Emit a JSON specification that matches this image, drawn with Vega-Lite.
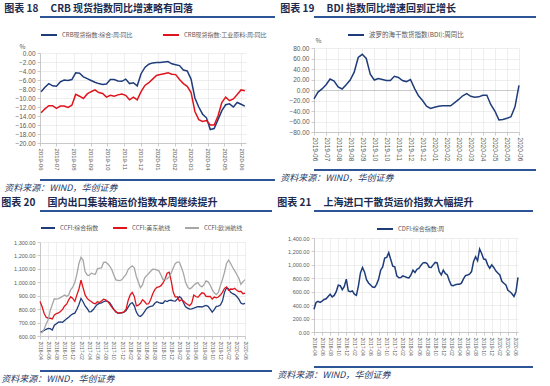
{
  "$schema": "https://vega.github.io/schema/vega-lite/v6.json",
  "background": "white",
  "padding": {"left": 0, "top": 4, "right": 0, "bottom": 0},
  "config": {
    "font": "Noto Sans CJK SC",
    "view": {"stroke": null},
    "axis": {"labelFont": "Liberation Sans", "labelColor": "#595959", "gridColor": "#e2e2e2", "gridWidth": 0.6, "domainColor": "#bfbfbf", "domainWidth": 0.8, "tickColor": "#bfbfbf", "tickWidth": 0.8, "tickSize": 3, "labelPadding": 2, "titlePadding": 0, "labelOverlap": false, "labelFlush": false},
    "legend": {"labelColor": "#595959", "symbolType": "stroke", "symbolStrokeWidth": 2, "symbolSize": 256, "labelFont": "Noto Sans CJK SC", "padding": 0},
    "title": {"font": "Noto Sans CJK SC"}
  },
  "resolve": {"scale": {"color": "independent"}, "legend": {"color": "independent"}},
  "spacing": 5,
  "vconcat": [
    {
      "spacing": 4,
      "resolve": {"scale": {"color": "independent"}, "legend": {"color": "independent"}},
      "hconcat": [
        {
          "spacing": 8,
          "resolve": {"scale": {"color": "independent"}, "legend": {"color": "independent"}},
          "vconcat": [
            {"width": 235, "height": 2, "view": {"fill": "#2e5496", "stroke": null}, "data": {"values": [{"z": 0}]}, "mark": {"type": "rule", "color": "#2e5496", "strokeWidth": 1.5}, "encoding": {"y": {"field": "z", "type": "quantitative", "axis": null, "scale": {"domain": [-1, 1]}}},
             "title": {"text": "图表 18\u3000 CRB 现货指数同比增速略有回落", "anchor": "start", "dx": -35, "fontSize": 10, "fontWeight": "bold", "color": "#1b2a4e", "offset": 2}},
            {
              "spacing": 8,
              "resolve": {"scale": {"color": "independent"}, "legend": {"color": "independent"}},
              "vconcat": [
                {
                  "width": 206, "height": 90,
                  "data": {"values": [
                    {"d":"2019-06-03","a":-8.6,"b":-13.3},{"d":"2019-06-10","a":-7.6,"b":-12.4},{"d":"2019-06-17","a":-6.8,"b":-11.7},{"d":"2019-06-24","a":-7.3,"b":-11.7},
                    {"d":"2019-07-01","a":-7.4,"b":-12.3},{"d":"2019-07-08","a":-6.4,"b":-11.8},{"d":"2019-07-15","a":-6.0,"b":-11.8},{"d":"2019-07-22","a":-6.1,"b":-12.1},{"d":"2019-07-29","a":-5.9,"b":-11.6},
                    {"d":"2019-08-05","a":-4.4,"b":-9.2},{"d":"2019-08-12","a":-4.5,"b":-9.6},{"d":"2019-08-19","a":-5.3,"b":-10.1},{"d":"2019-08-26","a":-5.7,"b":-9.1},
                    {"d":"2019-09-02","a":-6.1,"b":-8.6},{"d":"2019-09-09","a":-6.5,"b":-8.2},{"d":"2019-09-16","a":-6.8,"b":-8.8},{"d":"2019-09-23","a":-7.0,"b":-9.0},{"d":"2019-09-30","a":-6.9,"b":-9.8},
                    {"d":"2019-10-07","a":-5.9,"b":-9.4},{"d":"2019-10-14","a":-5.9,"b":-9.6},{"d":"2019-10-21","a":-6.2,"b":-9.3},{"d":"2019-10-28","a":-6.3,"b":-9.1},
                    {"d":"2019-11-04","a":-5.8,"b":-9.4},{"d":"2019-11-11","a":-6.8,"b":-10.4},{"d":"2019-11-18","a":-6.6,"b":-9.8},{"d":"2019-11-25","a":-7.3,"b":-10.4},
                    {"d":"2019-12-02","a":-4.6,"b":-8.6},{"d":"2019-12-09","a":-3.2,"b":-7.2},{"d":"2019-12-16","a":-2.5,"b":-6.6},{"d":"2019-12-23","a":-2.2,"b":-5.8},{"d":"2019-12-30","a":-2.1,"b":-5.0},
                    {"d":"2020-01-06","a":-2.1,"b":-4.8},{"d":"2020-01-13","a":-2.0,"b":-4.6},{"d":"2020-01-20","a":-1.9,"b":-4.4},{"d":"2020-01-27","a":-2.4,"b":-4.7},
                    {"d":"2020-02-03","a":-2.6,"b":-4.8},{"d":"2020-02-10","a":-2.8,"b":-5.9},{"d":"2020-02-17","a":-3.8,"b":-6.8},{"d":"2020-02-24","a":-4.0,"b":-7.4},
                    {"d":"2020-03-02","a":-5.8,"b":-8.8},{"d":"2020-03-09","a":-10.0,"b":-13.0},{"d":"2020-03-16","a":-12.0,"b":-14.8},{"d":"2020-03-23","a":-13.6,"b":-15.2},{"d":"2020-03-30","a":-14.4,"b":-15.0},
                    {"d":"2020-04-06","a":-17.0,"b":-16.0},{"d":"2020-04-13","a":-16.8,"b":-16.0},{"d":"2020-04-20","a":-14.8,"b":-14.0},{"d":"2020-04-27","a":-12.8,"b":-11.0},
                    {"d":"2020-05-04","a":-11.5,"b":-9.8},{"d":"2020-05-11","a":-11.3,"b":-10.6},{"d":"2020-05-18","a":-12.0,"b":-10.2},{"d":"2020-05-25","a":-11.0,"b":-9.2},
                    {"d":"2020-06-01","a":-11.4,"b":-8.2},{"d":"2020-06-08","a":-11.8,"b":-8.4}
                  ]},
                  "transform": [{"fold": ["a", "b"], "as": ["s", "v"]}],
                  "mark": {"type": "line", "strokeWidth": 1.5},
                  "encoding": {
                    "x": {"field": "d", "type": "temporal",
                          "scale": {"domain": [{"year": 2019, "month": 6, "date": 1}, {"year": 2020, "month": 6, "date": 10}]},
                          "axis": {"title": null, "format": "%Y-%m", "tickCount": {"interval": "month", "step": 1}, "labelAngle": 90, "labelFontSize": 6, "grid": true}},
                    "y": {"field": "v", "type": "quantitative", "scale": {"domain": [-20, 0]},
                          "axis": {"values": [-20,-18,-16,-14,-12,-10,-8,-6,-4,-2,0], "format": ".2f", "labelFontSize": 6.5, "minExtent": 37,
                                   "title": "%", "titleAngle": 0, "titleX": -21, "titleY": -4, "titleAlign": "left", "titleBaseline": "bottom", "titleFontSize": 6.5, "titleFontWeight": "normal", "titleColor": "#595959"}},
                    "color": {"field": "s", "type": "nominal", "scale": {"domain": ["a", "b"], "range": ["#1f3c7a", "#e0141c"]},
                              "legend": {"title": null, "orient": "top", "offset": 14, "columnPadding": 26, "labelFontSize": 6,
                                         "labelExpr": "datum.label == 'a' ? 'CRB现货指数:综合:周:同比' : 'CRB现货指数:工业原料:周:同比'"}}
                  }
                },
                {"width": 235, "height": 2, "view": {"fill": "#2e5496", "stroke": null}, "data": {"values": [{"z": 0}]}, "mark": {"type": "rule", "color": "#2e5496", "strokeWidth": 1.5}, "encoding": {"y": {"field": "z", "type": "quantitative", "axis": null, "scale": {"domain": [-1, 1]}}},
                 "title": {"text": "资料来源：WIND，华创证券", "orient": "bottom", "anchor": "start", "dx": -35, "fontSize": 9, "fontStyle": "italic", "fontWeight": "normal", "color": "#1f3864", "offset": 3}}
              ]
            }
          ]
        },
        {
          "spacing": 8,
          "resolve": {"scale": {"color": "independent"}, "legend": {"color": "independent"}},
          "vconcat": [
            {"width": 222, "height": 2, "view": {"fill": "#2e5496", "stroke": null}, "data": {"values": [{"z": 0}]}, "mark": {"type": "rule", "color": "#2e5496", "strokeWidth": 1.5}, "encoding": {"y": {"field": "z", "type": "quantitative", "axis": null, "scale": {"domain": [-1, 1]}}},
             "title": {"text": "图表 19\u3000 BDI 指数同比增速回到正增长", "anchor": "start", "dx": -33, "fontSize": 10, "fontWeight": "bold", "color": "#1b2a4e", "offset": 2}},
            {
              "spacing": 8,
              "resolve": {"scale": {"color": "independent"}, "legend": {"color": "independent"}},
              "vconcat": [
                {
                  "width": 205, "height": 84,
                  "data": {"values": [
                    {"d":"2019-06-21","v":-17},{"d":"2019-06-28","v":-4},{"d":"2019-07-05","v":2},{"d":"2019-07-12","v":10},{"d":"2019-07-19","v":21},{"d":"2019-07-26","v":17},
                    {"d":"2019-08-02","v":6},{"d":"2019-08-09","v":2},{"d":"2019-08-16","v":10},{"d":"2019-08-23","v":19},{"d":"2019-08-30","v":34},
                    {"d":"2019-09-06","v":62},{"d":"2019-09-13","v":68},{"d":"2019-09-20","v":60},{"d":"2019-09-27","v":30},
                    {"d":"2019-10-04","v":19},{"d":"2019-10-11","v":22},{"d":"2019-10-18","v":20},{"d":"2019-10-25","v":18},
                    {"d":"2019-11-01","v":18},{"d":"2019-11-08","v":26},{"d":"2019-11-15","v":24},{"d":"2019-11-22","v":18},{"d":"2019-11-29","v":16},
                    {"d":"2019-12-06","v":20},{"d":"2019-12-13","v":3},{"d":"2019-12-20","v":-11},{"d":"2019-12-27","v":-20},
                    {"d":"2020-01-03","v":-31},{"d":"2020-01-10","v":-35},{"d":"2020-01-17","v":-33},{"d":"2020-01-24","v":-31},{"d":"2020-01-31","v":-30},
                    {"d":"2020-02-07","v":-30},{"d":"2020-02-14","v":-30},{"d":"2020-02-21","v":-24},{"d":"2020-02-28","v":-18},
                    {"d":"2020-03-06","v":-11},{"d":"2020-03-13","v":-7},{"d":"2020-03-20","v":-12},{"d":"2020-03-27","v":-14},
                    {"d":"2020-04-03","v":-13},{"d":"2020-04-10","v":-10},{"d":"2020-04-17","v":-10},{"d":"2020-04-24","v":-28},
                    {"d":"2020-05-01","v":-40},{"d":"2020-05-08","v":-57},{"d":"2020-05-15","v":-56},{"d":"2020-05-22","v":-54},{"d":"2020-05-29","v":-51},
                    {"d":"2020-06-05","v":-32},{"d":"2020-06-12","v":9}
                  ]},
                  "mark": {"type": "line", "strokeWidth": 1.5},
                  "encoding": {
                    "x": {"field": "d", "type": "ordinal", "scale": {"type": "point", "padding": 0},
                          "axis": {"title": null, "values": ["2019-06-21","2019-07-12","2019-08-02","2019-08-23","2019-09-13","2019-10-04","2019-10-25","2019-11-15","2019-12-06","2019-12-27","2020-01-17","2020-02-07","2020-02-28","2020-03-20","2020-04-10","2020-05-01","2020-05-22","2020-06-12"],
                                   "labelExpr": "substring(datum.value, 0, 7)", "labelAngle": 90, "labelFontSize": 6.5, "grid": true}},
                    "y": {"field": "v", "type": "quantitative", "scale": {"domain": [-80, 80]},
                          "axis": {"values": [-80,-60,-40,-20,0,20,40,60,80], "format": ".2f", "labelFontSize": 6.5, "minExtent": 34,
                                   "gridColor": {"condition": {"test": "datum.value === 0", "value": "#a6a6a6"}, "value": "#e2e2e2"},
                                   "title": "%", "titleAngle": 0, "titleX": 1, "titleY": -5, "titleAlign": "left", "titleBaseline": "bottom", "titleFontSize": 6.5, "titleFontWeight": "normal", "titleColor": "#595959"}},
                    "color": {"datum": "波罗的海干散货指数(BDI):周同比", "scale": {"range": ["#1f3c7a"]},
                              "legend": {"title": null, "orient": "none", "legendX": 33, "legendY": -22, "labelFontSize": 6.5}}
                  }
                },
                {"width": 222, "height": 2, "view": {"fill": "#2e5496", "stroke": null}, "data": {"values": [{"z": 0}]}, "mark": {"type": "rule", "color": "#2e5496", "strokeWidth": 1.5}, "encoding": {"y": {"field": "z", "type": "quantitative", "axis": null, "scale": {"domain": [-1, 1]}}},
                 "title": {"text": "资料来源：WIND，华创证券", "orient": "bottom", "anchor": "start", "dx": -33, "fontSize": 9, "fontStyle": "italic", "fontWeight": "normal", "color": "#1f3864", "offset": 3}}
              ]
            }
          ]
        }
      ]
    },
    {
      "spacing": 4,
      "resolve": {"scale": {"color": "independent"}, "legend": {"color": "independent"}},
      "hconcat": [
        {
          "spacing": 8,
          "resolve": {"scale": {"color": "independent"}, "legend": {"color": "independent"}},
          "vconcat": [
            {"width": 232, "height": 2, "view": {"fill": "#2e5496", "stroke": null}, "data": {"values": [{"z": 0}]}, "mark": {"type": "rule", "color": "#2e5496", "strokeWidth": 1.5}, "encoding": {"y": {"field": "z", "type": "quantitative", "axis": null, "scale": {"domain": [-1, 1]}}},
             "title": {"text": "图表 20\u3000 国内出口集装箱运价指数本周继续提升", "anchor": "start", "dx": -38, "fontSize": 10, "fontWeight": "bold", "color": "#1b2a4e", "offset": 2}},
            {
              "spacing": 10,
              "resolve": {"scale": {"color": "independent"}, "legend": {"color": "independent"}},
              "vconcat": [
                {
                  "width": 205, "height": 94,
                  "data": {"values": [
                    {"d":"2016-04-01","a":632,"b":857,"c":632},{"d":"2016-04-16","a":635,"b":819,"c":625},{"d":"2016-05-01","a":642,"b":770,"c":650},{"d":"2016-05-16","a":650,"b":740,"c":690},
                    {"d":"2016-06-01","a":657,"b":732,"c":720},{"d":"2016-06-16","a":655,"b":732,"c":790},{"d":"2016-07-01","a":645,"b":727,"c":835},{"d":"2016-07-16","a":680,"b":757,"c":877},
                    {"d":"2016-08-01","a":692,"b":767,"c":875},{"d":"2016-08-16","a":703,"b":772,"c":878},{"d":"2016-09-01","a":705,"b":782,"c":886},{"d":"2016-09-16","a":702,"b":798,"c":895},
                    {"d":"2016-10-01","a":715,"b":824,"c":905},{"d":"2016-10-16","a":728,"b":837,"c":895},{"d":"2016-11-01","a":740,"b":870,"c":905},{"d":"2016-11-16","a":755,"b":892,"c":945},
                    {"d":"2016-12-01","a":765,"b":880,"c":964},{"d":"2016-12-16","a":770,"b":858,"c":1000},{"d":"2017-01-01","a":799,"b":906,"c":1060},{"d":"2017-01-16","a":835,"b":950,"c":1140},
                    {"d":"2017-02-01","a":880,"b":1015,"c":1185},{"d":"2017-02-16","a":855,"b":960,"c":1165},{"d":"2017-03-01","a":824,"b":906,"c":1080},{"d":"2017-03-16","a":805,"b":880,"c":1055},
                    {"d":"2017-04-01","a":780,"b":866,"c":1050},{"d":"2017-04-16","a":782,"b":857,"c":1068},{"d":"2017-05-01","a":797,"b":844,"c":1062},{"d":"2017-05-16","a":819,"b":840,"c":1060},
                    {"d":"2017-06-01","a":836,"b":855,"c":1100},{"d":"2017-06-16","a":843,"b":850,"c":1106},{"d":"2017-07-01","a":847,"b":860,"c":1108},{"d":"2017-07-16","a":855,"b":874,"c":1148},
                    {"d":"2017-08-01","a":862,"b":869,"c":1150},{"d":"2017-08-16","a":858,"b":858,"c":1138},{"d":"2017-09-01","a":847,"b":838,"c":1120},{"d":"2017-09-16","a":825,"b":815,"c":1095},
                    {"d":"2017-10-01","a":798,"b":797,"c":1055},{"d":"2017-10-16","a":778,"b":783,"c":1018},{"d":"2017-11-01","a":770,"b":769,"c":1015},{"d":"2017-11-16","a":770,"b":774,"c":1012},
                    {"d":"2017-12-01","a":773,"b":774,"c":1020},{"d":"2017-12-16","a":778,"b":780,"c":1040},{"d":"2018-01-01","a":790,"b":800,"c":1058},{"d":"2018-01-16","a":815,"b":865,"c":1095},
                    {"d":"2018-02-01","a":839,"b":906,"c":1111},{"d":"2018-02-16","a":849,"b":924,"c":1123},{"d":"2018-03-01","a":825,"b":895,"c":1108},{"d":"2018-03-16","a":778,"b":825,"c":1043},
                    {"d":"2018-04-01","a":752,"b":830,"c":1000},{"d":"2018-04-16","a":745,"b":844,"c":960},{"d":"2018-05-01","a":760,"b":870,"c":980},{"d":"2018-05-16","a":782,"b":857,"c":1031},
                    {"d":"2018-06-01","a":805,"b":838,"c":1050},{"d":"2018-06-16","a":815,"b":840,"c":1065},{"d":"2018-07-01","a":820,"b":872,"c":1082},{"d":"2018-07-16","a":824,"b":915,"c":1097},
                    {"d":"2018-08-01","a":844,"b":945,"c":1096},{"d":"2018-08-16","a":855,"b":962,"c":1092},{"d":"2018-09-01","a":848,"b":965,"c":1085},{"d":"2018-09-16","a":844,"b":975,"c":1055},
                    {"d":"2018-10-01","a":844,"b":995,"c":1020},{"d":"2018-10-16","a":863,"b":1025,"c":1025},{"d":"2018-11-01","a":857,"b":1068,"c":1026},{"d":"2018-11-16","a":865,"b":1075,"c":1040},
                    {"d":"2018-12-01","a":866,"b":1010,"c":1070},{"d":"2018-12-16","a":862,"b":925,"c":1106},{"d":"2019-01-01","a":860,"b":890,"c":1140},{"d":"2019-01-16","a":876,"b":893,"c":1150},
                    {"d":"2019-02-01","a":893,"b":860,"c":1150},{"d":"2019-02-16","a":882,"b":870,"c":1110},{"d":"2019-03-01","a":847,"b":860,"c":1065},{"d":"2019-03-16","a":818,"b":845,"c":1000},
                    {"d":"2019-04-01","a":808,"b":835,"c":966},{"d":"2019-04-16","a":800,"b":826,"c":950},{"d":"2019-05-01","a":802,"b":845,"c":960},{"d":"2019-05-16","a":807,"b":905,"c":978},
                    {"d":"2019-06-01","a":813,"b":894,"c":990},{"d":"2019-06-16","a":818,"b":888,"c":998},{"d":"2019-07-01","a":818,"b":905,"c":976},{"d":"2019-07-16","a":816,"b":922,"c":966},
                    {"d":"2019-08-01","a":822,"b":918,"c":982},{"d":"2019-08-16","a":828,"b":895,"c":1010},{"d":"2019-09-01","a":821,"b":894,"c":1003},{"d":"2019-09-16","a":800,"b":895,"c":980},
                    {"d":"2019-10-01","a":777,"b":875,"c":945},{"d":"2019-10-16","a":796,"b":890,"c":922},{"d":"2019-11-01","a":820,"b":884,"c":908},{"d":"2019-11-16","a":822,"b":890,"c":925},
                    {"d":"2019-12-01","a":830,"b":905,"c":975},{"d":"2019-12-16","a":860,"b":925,"c":1020},{"d":"2020-01-01","a":925,"b":955,"c":1075},{"d":"2020-01-16","a":960,"b":965,"c":1140},
                    {"d":"2020-02-01","a":950,"b":940,"c":1165},{"d":"2020-02-16","a":925,"b":950,"c":1140},{"d":"2020-03-01","a":915,"b":948,"c":1110},{"d":"2020-03-16","a":908,"b":955,"c":1085},
                    {"d":"2020-04-01","a":894,"b":940,"c":1058},{"d":"2020-04-16","a":874,"b":931,"c":1030},{"d":"2020-05-01","a":845,"b":933,"c":985},{"d":"2020-05-16","a":838,"b":915,"c":1005},
                    {"d":"2020-06-01","a":843,"b":919,"c":1020}
                  ]},
                  "transform": [{"fold": ["a", "b", "c"], "as": ["s", "v"]}],
                  "mark": {"type": "line", "strokeWidth": 1.3},
                  "encoding": {
                    "x": {"field": "d", "type": "ordinal", "scale": {"type": "point", "padding": 0},
                          "axis": {"title": null, "values": ["2016-04-01","2016-06-01","2016-08-01","2016-10-01","2016-12-01","2017-02-01","2017-04-01","2017-06-01","2017-08-01","2017-10-01","2017-12-01","2018-02-01","2018-04-01","2018-06-01","2018-08-01","2018-10-01","2018-12-01","2019-02-01","2019-04-01","2019-06-01","2019-08-01","2019-10-01","2019-12-01","2020-02-01","2020-04-01","2020-06-01"],
                                   "labelExpr": "substring(datum.value, 0, 7)", "labelAngle": 90, "labelFontSize": 5, "grid": true}},
                    "y": {"field": "v", "type": "quantitative", "scale": {"domain": [600, 1300]},
                          "axis": {"values": [600,700,800,900,1000,1100,1200,1300], "format": ",.2f", "labelFontSize": 5.5, "minExtent": 40, "title": null}},
                    "color": {"field": "s", "type": "nominal", "scale": {"domain": ["a", "b", "c"], "range": ["#1f3c7a", "#e0141c", "#a6a6a6"]},
                              "legend": {"title": null, "orient": "top", "offset": 10, "columnPadding": 10, "symbolSize": 196, "labelFontSize": 6,
                                         "labelExpr": "datum.label == 'a' ? 'CCFI:综合指数' : (datum.label == 'b' ? 'CCFI:美东航线' : 'CCFI:欧洲航线')"}}
                  }
                },
                {"width": 232, "height": 2, "view": {"fill": "#2e5496", "stroke": null}, "data": {"values": [{"z": 0}]}, "mark": {"type": "rule", "color": "#2e5496", "strokeWidth": 1.5}, "encoding": {"y": {"field": "z", "type": "quantitative", "axis": null, "scale": {"domain": [-1, 1]}}},
                 "title": {"text": "资料来源：WIND，华创证券", "orient": "bottom", "anchor": "start", "dx": -38, "fontSize": 9, "fontStyle": "italic", "fontWeight": "normal", "color": "#1f3864", "offset": 3}}
              ]
            }
          ]
        },
        {
          "spacing": 8,
          "resolve": {"scale": {"color": "independent"}, "legend": {"color": "independent"}},
          "vconcat": [
            {"width": 219, "height": 2, "view": {"fill": "#2e5496", "stroke": null}, "data": {"values": [{"z": 0}]}, "mark": {"type": "rule", "color": "#2e5496", "strokeWidth": 1.5}, "encoding": {"y": {"field": "z", "type": "quantitative", "axis": null, "scale": {"domain": [-1, 1]}}},
             "title": {"text": "图表 21\u3000 上海进口干散货运价指数大幅提升", "anchor": "start", "dx": -36, "fontSize": 10, "fontWeight": "bold", "color": "#1b2a4e", "offset": 2}},
            {
              "spacing": 10,
              "resolve": {"scale": {"color": "independent"}, "legend": {"color": "independent"}},
              "vconcat": [
                {
                  "width": 204, "height": 94,
                  "data": {"values": [
                    {"d":"2016-04-01","v":339},{"d":"2016-04-16","v":440},{"d":"2016-05-01","v":455},{"d":"2016-05-16","v":440},{"d":"2016-06-01","v":460},{"d":"2016-06-16","v":485},
                    {"d":"2016-07-01","v":495},{"d":"2016-07-16","v":530},{"d":"2016-08-01","v":563},{"d":"2016-08-16","v":523},{"d":"2016-09-01","v":545},{"d":"2016-09-16","v":600},
                    {"d":"2016-10-01","v":697},{"d":"2016-10-16","v":690},{"d":"2016-11-01","v":630},{"d":"2016-11-16","v":680},{"d":"2016-12-01","v":787},{"d":"2016-12-16","v":610},
                    {"d":"2017-01-01","v":600},{"d":"2017-01-16","v":613},{"d":"2017-02-01","v":563},{"d":"2017-02-16","v":545},{"d":"2017-03-01","v":688},{"d":"2017-03-16","v":880},
                    {"d":"2017-04-01","v":960},{"d":"2017-04-16","v":895},{"d":"2017-05-01","v":780},{"d":"2017-05-16","v":730},{"d":"2017-06-01","v":700},{"d":"2017-06-16","v":670},
                    {"d":"2017-07-01","v":665},{"d":"2017-07-16","v":710},{"d":"2017-08-01","v":790},{"d":"2017-08-16","v":920},{"d":"2017-09-01","v":970},{"d":"2017-09-16","v":1100},
                    {"d":"2017-10-01","v":1111},{"d":"2017-10-16","v":1180},{"d":"2017-11-01","v":1080},{"d":"2017-11-16","v":980},{"d":"2017-12-01","v":970},{"d":"2017-12-16","v":837},
                    {"d":"2018-01-01","v":808},{"d":"2018-01-16","v":810},{"d":"2018-02-01","v":835},{"d":"2018-02-16","v":825},{"d":"2018-03-01","v":812},{"d":"2018-03-16","v":805},
                    {"d":"2018-04-01","v":850},{"d":"2018-04-16","v":920},{"d":"2018-05-01","v":887},{"d":"2018-05-16","v":935},{"d":"2018-06-01","v":950},{"d":"2018-06-16","v":995},
                    {"d":"2018-07-01","v":1030},{"d":"2018-07-16","v":1036},{"d":"2018-08-01","v":1020},{"d":"2018-08-16","v":965},{"d":"2018-09-01","v":961},{"d":"2018-09-16","v":1000},
                    {"d":"2018-10-01","v":1036},{"d":"2018-10-16","v":1030},{"d":"2018-11-01","v":900},{"d":"2018-11-16","v":850},{"d":"2018-12-01","v":920},{"d":"2018-12-16","v":872},
                    {"d":"2019-01-01","v":850},{"d":"2019-01-16","v":762},{"d":"2019-02-01","v":695},{"d":"2019-02-16","v":690},{"d":"2019-03-01","v":705},{"d":"2019-03-16","v":712},
                    {"d":"2019-04-01","v":712},{"d":"2019-04-16","v":727},{"d":"2019-05-01","v":790},{"d":"2019-05-16","v":840},{"d":"2019-06-01","v":850},{"d":"2019-06-16","v":862},
                    {"d":"2019-07-01","v":900},{"d":"2019-07-16","v":1050},{"d":"2019-08-01","v":1120},{"d":"2019-08-16","v":1061},{"d":"2019-09-01","v":1236},{"d":"2019-09-16","v":1170},
                    {"d":"2019-10-01","v":1086},{"d":"2019-10-16","v":1080},{"d":"2019-11-01","v":1000},{"d":"2019-11-16","v":950},{"d":"2019-12-01","v":1000},{"d":"2019-12-16","v":961},
                    {"d":"2020-01-01","v":910},{"d":"2020-01-16","v":880},{"d":"2020-02-01","v":850},{"d":"2020-02-16","v":755},{"d":"2020-03-01","v":727},{"d":"2020-03-16","v":700},
                    {"d":"2020-04-01","v":620},{"d":"2020-04-16","v":600},{"d":"2020-05-01","v":570},{"d":"2020-05-16","v":530},{"d":"2020-06-01","v":600},{"d":"2020-06-16","v":812}
                  ]},
                  "mark": {"type": "line", "strokeWidth": 1.5},
                  "encoding": {
                    "x": {"field": "d", "type": "ordinal", "scale": {"type": "point", "padding": 0},
                          "axis": {"title": null, "values": ["2016-04-01","2016-06-01","2016-08-01","2016-10-01","2016-12-01","2017-02-01","2017-04-01","2017-06-01","2017-08-01","2017-10-01","2017-12-01","2018-02-01","2018-04-01","2018-06-01","2018-08-01","2018-10-01","2018-12-01","2019-02-01","2019-04-01","2019-06-01","2019-08-01","2019-10-01","2019-12-01","2020-02-01","2020-04-01","2020-06-01"],
                                   "labelExpr": "substring(datum.value, 0, 7)", "labelAngle": 90, "labelFontSize": 5, "grid": true}},
                    "y": {"field": "v", "type": "quantitative", "scale": {"domain": [0, 1400]},
                          "axis": {"values": [0,200,400,600,800,1000,1200,1400], "format": ",.2f", "labelFontSize": 5.5, "minExtent": 37, "title": null}},
                    "color": {"datum": "CDFI:综合指数:周", "scale": {"range": ["#1f3c7a"]},
                              "legend": {"title": null, "orient": "none", "legendX": 62, "legendY": -18, "labelFontSize": 6}}
                  }
                },
                {"width": 219, "height": 2, "view": {"fill": "#2e5496", "stroke": null}, "data": {"values": [{"z": 0}]}, "mark": {"type": "rule", "color": "#2e5496", "strokeWidth": 1.5}, "encoding": {"y": {"field": "z", "type": "quantitative", "axis": null, "scale": {"domain": [-1, 1]}}},
                 "title": {"text": "资料来源：WIND，华创证券", "orient": "bottom", "anchor": "start", "dx": -36, "fontSize": 9, "fontStyle": "italic", "fontWeight": "normal", "color": "#1f3864", "offset": 3}}
              ]
            }
          ]
        }
      ]
    }
  ]
}
